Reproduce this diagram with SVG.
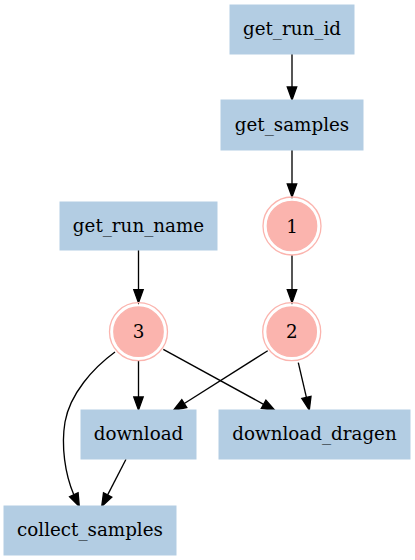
<svg xmlns="http://www.w3.org/2000/svg" width="415" height="560" viewBox="0 0 415 560">
<style>
.box{fill:#b3cde3;stroke:#b3cde3;stroke-width:1}
.in{fill:#fbb4ae;stroke:#fbb4ae;stroke-width:1.3}
.out{fill:none;stroke:#fbb4ae;stroke-width:1.3}
.lbl{font-family:"DejaVu Serif","Liberation Serif",serif;font-size:18.3px;fill:#000;text-anchor:middle}
.e{fill:none;stroke:#000;stroke-width:1.33}
.h{fill:#000;stroke:#000;stroke-width:1.33}
</style>
<rect width="415" height="560" fill="#fff"/>
<g id="edges">
<path class="e" d="M292,54 L292,87"/><polygon class="h" points="287.3,87 292,100 296.7,87"/>
<path class="e" d="M292,150 L292,184"/><polygon class="h" points="287.3,184 292,197 296.7,184"/>
<path class="e" d="M292,255 L292,289.7"/><polygon class="h" points="287.3,289.7 292,302.7 296.7,289.7"/>
<path class="e" d="M138.5,250 L138.5,289.7"/><polygon class="h" points="133.8,289.7 138.5,302.7 143.2,289.7"/>
<path class="e" d="M138.5,360.7 L138.5,397"/><polygon class="h" points="133.8,397 138.5,410 143.2,397"/>
<path class="e" d="M163.3,349.3 L263.6,404.3"/><polygon class="h" points="261.3,408.4 275,410.5 265.9,400.2"/>
<path class="e" d="M267.7,350.7 L184.3,403.5"/><polygon class="h" points="181.8,399.6 173.3,410.5 186.8,407.5"/>
<path class="e" d="M298.3,362.7 L306.4,397.4"/><polygon class="h" points="301.8,398.4 309.3,410 311,396.3"/>
<path class="e" d="M126,459.3 L107.65,494.9"/><polygon class="h" points="103.5,492.8 101.7,506.5 111.8,497.1"/>
<path class="e" d="M115,352 C93,368 70,394 65,422 C61,446 65,474 73.8,494.7"/><polygon class="h" points="69.6,496.7 79.3,506.5 78.1,492.7"/>
</g>
<g id="get_run_id"><rect class="box" x="230" y="5" width="124" height="49"/><text class="lbl" x="292" y="35">get_run_id</text></g>
<g id="get_samples"><rect class="box" x="221" y="100" width="142" height="50"/><text class="lbl" x="292" y="130.5">get_samples</text></g>
<g id="n1"><circle class="out" cx="292" cy="226" r="29"/><circle class="in" cx="292" cy="226" r="24.7"/><text class="lbl" x="292" y="232.5">1</text></g>
<g id="get_run_name"><rect class="box" x="60" y="202" width="157" height="48"/><text class="lbl" x="138.5" y="231.5">get_run_name</text></g>
<g id="n3"><circle class="out" cx="138.5" cy="331.7" r="29"/><circle class="in" cx="138.5" cy="331.7" r="24.7"/><text class="lbl" x="138.5" y="338">3</text></g>
<g id="n2"><circle class="out" cx="291.7" cy="331.7" r="29"/><circle class="in" cx="291.7" cy="331.7" r="24.7"/><text class="lbl" x="291.7" y="338">2</text></g>
<g id="download"><rect class="box" x="81" y="410" width="115" height="49"/><text class="lbl" x="138.5" y="440">download</text></g>
<g id="download_dragen"><rect class="box" x="219" y="410" width="191" height="49"/><text class="lbl" x="314.5" y="440">download_dragen</text></g>
<g id="collect_samples"><rect class="box" x="4" y="506" width="172" height="49"/><text class="lbl" x="90" y="536">collect_samples</text></g>
</svg>
